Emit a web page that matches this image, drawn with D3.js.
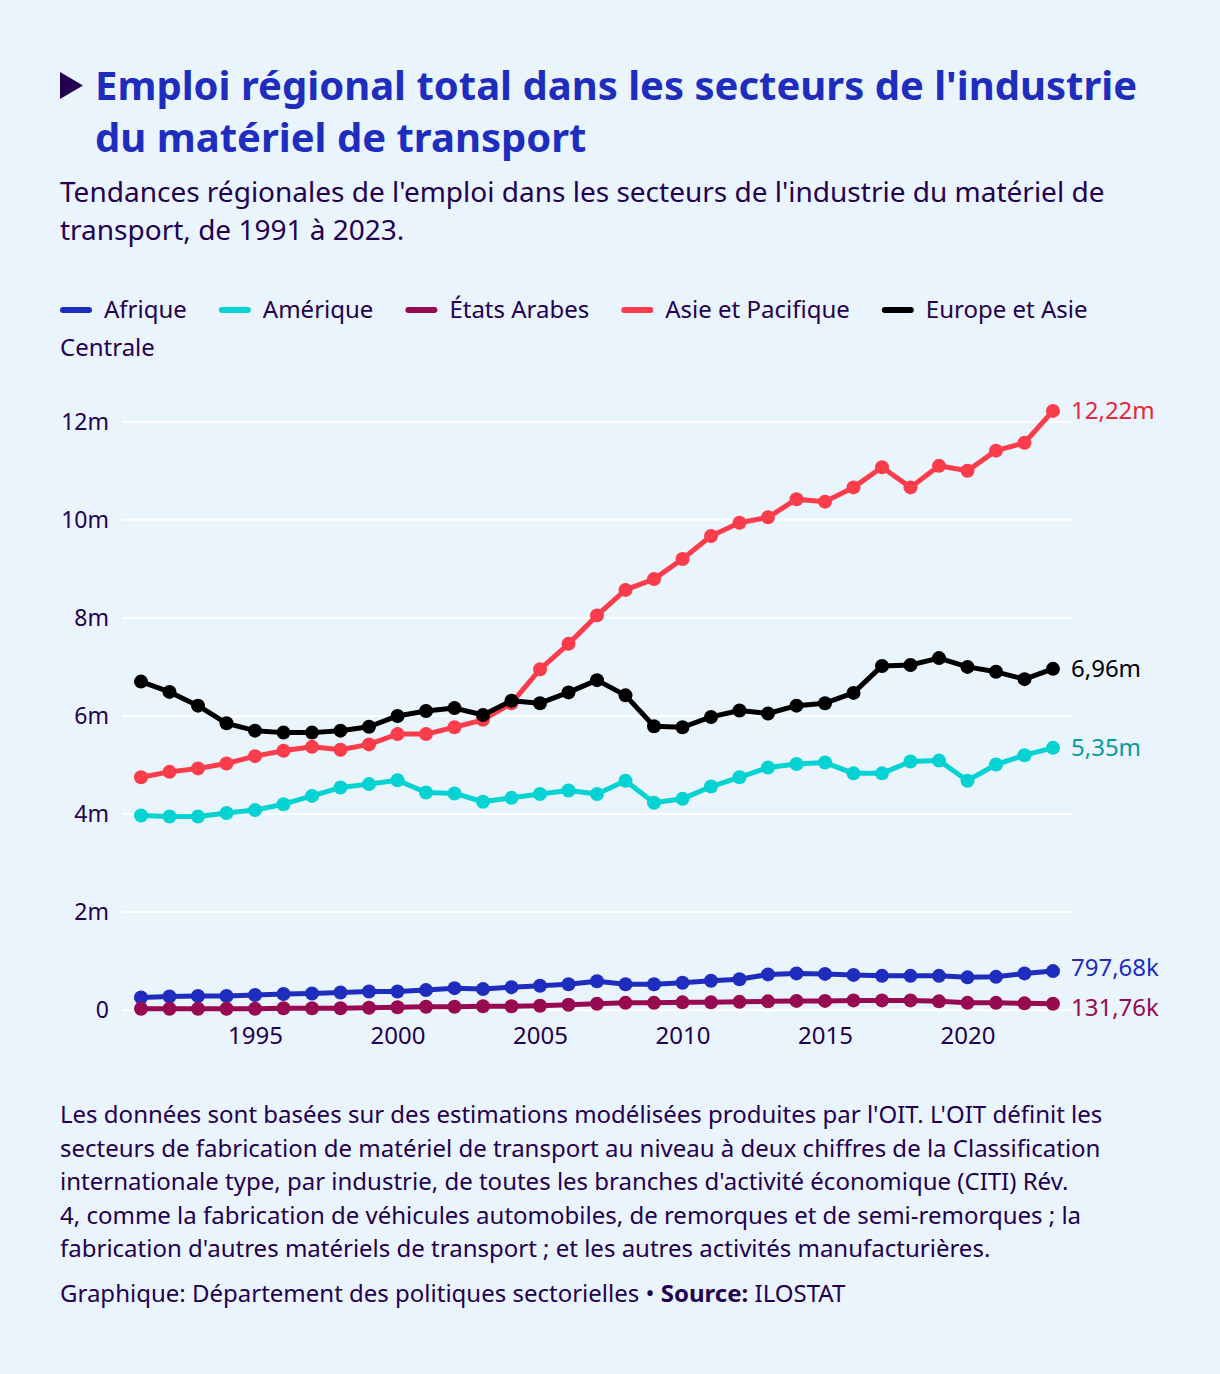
<!DOCTYPE html>
<html>
<head>
<meta charset="utf-8">
<script src="https://cdn.jsdelivr.net/npm/d3@7"></script>
<style>
  html, body { margin: 0; padding: 0; background: #EAF4FD; }
  svg { display: block; font-family: "Noto Sans", sans-serif; }
</style>
</head>
<body>
<div id="chart"></div>
<script>
const years = [1991, 1992, 1993, 1994, 1995, 1996, 1997, 1998, 1999, 2000, 2001,
  2002, 2003, 2004, 2005, 2006, 2007, 2008, 2009, 2010, 2011, 2012, 2013, 2014,
  2015, 2016, 2017, 2018, 2019, 2020, 2021, 2022, 2023];

// values in millions
const afrique = [0.26, 0.28, 0.29, 0.29, 0.31, 0.33, 0.34, 0.36, 0.38, 0.38, 0.41,
  0.45, 0.43, 0.47, 0.50, 0.53, 0.59, 0.53, 0.53, 0.56, 0.60, 0.63, 0.73, 0.75,
  0.74, 0.72, 0.70, 0.70, 0.70, 0.67, 0.68, 0.75, 0.79768];
const amerique = [3.97, 3.95, 3.95, 4.02, 4.08, 4.20, 4.37, 4.54, 4.61, 4.69, 4.44,
  4.42, 4.25, 4.33, 4.41, 4.48, 4.41, 4.68, 4.23, 4.31, 4.56, 4.75, 4.95, 5.02,
  5.05, 4.83, 4.83, 5.07, 5.09, 4.68, 5.01, 5.20, 5.35];
const etatsArabes = [0.03, 0.03, 0.03, 0.03, 0.03, 0.04, 0.04, 0.04, 0.05, 0.06, 0.07,
  0.07, 0.08, 0.08, 0.09, 0.11, 0.13, 0.15, 0.15, 0.16, 0.16, 0.17, 0.18, 0.19,
  0.19, 0.20, 0.20, 0.20, 0.18, 0.15, 0.15, 0.14, 0.13176];
const asiePacifique = [4.75, 4.86, 4.93, 5.03, 5.18, 5.29, 5.37, 5.31, 5.42, 5.63, 5.63,
  5.77, 5.92, 6.26, 6.95, 7.47, 8.05, 8.57, 8.79, 9.20, 9.67, 9.94, 10.05, 10.42,
  10.37, 10.66, 11.07, 10.66, 11.10, 11.00, 11.41, 11.57, 12.22];
const europeAsie = [6.70, 6.49, 6.21, 5.85, 5.70, 5.66, 5.66, 5.70, 5.78, 6.00, 6.10,
  6.16, 6.02, 6.31, 6.26, 6.48, 6.73, 6.42, 5.79, 5.77, 5.98, 6.11, 6.05, 6.21,
  6.26, 6.47, 7.02, 7.04, 7.18, 7.00, 6.90, 6.75, 6.96];

const seriesNames = ["Afrique", "Amérique", "États Arabes", "Asie et Pacifique", "Europe et Asie Centrale"];
const seriesValues = [afrique, amerique, etatsArabes, asiePacifique, europeAsie];
const seriesColors = ["#1E2DBE", "#05D2D2", "#970A52", "#FA3C4B", "#000000"];
const labelColors = ["#1E2DBE", "#079B9E", "#970A52", "#E32A3C", "#000000"];
const endLabels = ["797,68k", "5,35m", "131,76k", "12,22m", "6,96m"];

const yTicks = [0, 2, 4, 6, 8, 10, 12];
const xTicks = [1995, 2000, 2005, 2010, 2015, 2020];

const titleLines = ["Emploi régional total dans les secteurs de l'industrie", "du matériel de transport"];
const subtitleLines = ["Tendances régionales de l'emploi dans les secteurs de l'industrie du matériel de",
  "transport, de 1991 à 2023."];
const noteLines = [
  "Les données sont basées sur des estimations modélisées produites par l'OIT. L'OIT définit les",
  "secteurs de fabrication de matériel de transport au niveau à deux chiffres de la Classification",
  "internationale type, par industrie, de toutes les branches d'activité économique (CITI) Rév.",
  "4, comme la fabrication de véhicules automobiles, de remorques et de semi-remorques ; la",
  "fabrication d'autres matériels de transport ; et les autres activités manufacturières."
];

const W = 1220, H = 1374;
const ink = "#230050";
const svg = d3.select("#chart").append("svg")
  .attr("width", W)
  .attr("height", H);

// title
svg.append("path")
  .attr("d", "M60,72 L83,85.5 L60,99 Z")
  .attr("fill", ink);
svg.append("g").selectAll("text")
  .data(titleLines)
  .join("text")
  .attr("x", 95)
  .attr("y", (d, i) => 100 + i * 52)
  .attr("font-size", 40)
  .attr("font-weight", "bold")
  .attr("fill", "#1E2DBE")
  .text(d => d);

svg.append("g").selectAll("text")
  .data(subtitleLines)
  .join("text")
  .attr("x", 60)
  .attr("y", (d, i) => 202 + i * 38)
  .attr("font-size", 28)
  .attr("fill", ink)
  .text(d => d);

// legend (inline, wraps like text)
const legend = svg.append("g");
let lx = 60, ly = 318;
const legendRight = 1165;
seriesNames.forEach((name, i) => {
  legend.append("line")
    .attr("x1", lx + 3).attr("x2", lx + 29)
    .attr("y1", ly - 8).attr("y2", ly - 8)
    .attr("stroke", seriesColors[i])
    .attr("stroke-width", 6)
    .attr("stroke-linecap", "round");
  lx += 44;
  const words = name.split(" ");
  let line = legend.append("text")
    .attr("x", lx).attr("y", ly)
    .attr("font-size", 24)
    .attr("fill", ink);
  let str = "";
  words.forEach(w => {
    const test = str ? str + " " + w : w;
    line.text(test);
    if (lx + line.node().getComputedTextLength() > legendRight && str) {
      line.text(str);
      ly += 38;
      lx = 60;
      line = legend.append("text")
        .attr("x", lx).attr("y", ly)
        .attr("font-size", 24)
        .attr("fill", ink)
        .text(w);
      str = w;
    } else {
      str = test;
    }
  });
  lx += line.node().getComputedTextLength() + 32;
});

// chart
const plotLeft = 122, plotRight = 1073;
const x = d3.scaleLinear()
  .domain([years[0], years[years.length - 1]])
  .range([plotLeft + 19, plotRight - 20]);
const y = d3.scaleLinear()
  .domain([0, 12])
  .range([1010.2, 421.7]);

const grid = svg.append("g");
grid.selectAll("line")
  .data(yTicks)
  .join("line")
  .attr("x1", plotLeft).attr("x2", plotRight)
  .attr("y1", d => y(d)).attr("y2", d => y(d))
  .attr("stroke", "#fff")
  .attr("stroke-width", 2);

const yAxis = svg.append("g")
  .attr("transform", `translate(${plotLeft},0)`)
  .call(d3.axisLeft(y).tickValues(yTicks).tickSize(0).tickPadding(13)
    .tickFormat(d => d === 0 ? "0" : d + "m"));
yAxis.select(".domain").remove();
yAxis.selectAll("text")
  .attr("font-family", "Noto Sans, sans-serif")
  .attr("font-size", 23)
  .attr("fill", ink);

const xAxis = svg.append("g")
  .attr("transform", `translate(0,${y(0)})`)
  .call(d3.axisBottom(x).tickValues(xTicks).tickSize(0).tickPadding(17)
    .tickFormat(d3.format("d")));
xAxis.select(".domain").remove();
xAxis.selectAll("text")
  .attr("font-family", "Noto Sans, sans-serif")
  .attr("font-size", 24)
  .attr("fill", ink);

const line = d3.line()
  .x((d, i) => x(years[i]))
  .y(d => y(d));

const seriesG = svg.append("g");
seriesValues.forEach((vals, i) => {
  const g = seriesG.append("g");
  g.append("path")
    .datum(vals)
    .attr("fill", "none")
    .attr("stroke", seriesColors[i])
    .attr("stroke-width", 5)
    .attr("stroke-linejoin", "round")
    .attr("d", line);
  g.selectAll("circle")
    .data(vals)
    .join("circle")
    .attr("cx", (d, j) => x(years[j]))
    .attr("cy", d => y(d))
    .attr("r", 7)
    .attr("fill", seriesColors[i]);
});

// end labels, nudged apart when too close
const ends = seriesValues.map((vals, i) => ({
  i, y: y(vals[vals.length - 1]), text: endLabels[i]
})).sort((a, b) => a.y - b.y);
const minGap = 40;
for (let k = 1; k < ends.length; k++) {
  const gap = ends[k].y - ends[k - 1].y;
  if (gap < minGap) {
    const push = (minGap - gap) / 2;
    ends[k - 1].y -= push;
    ends[k].y += push;
  }
}
svg.append("g").selectAll("text")
  .data(ends)
  .join("text")
  .attr("x", x(years[years.length - 1]) + 18)
  .attr("y", d => d.y)
  .attr("dy", "0.35em")
  .attr("font-size", 24)
  .attr("fill", d => labelColors[d.i])
  .text(d => d.text);

// notes
svg.append("g").selectAll("text")
  .data(noteLines)
  .join("text")
  .attr("x", 60)
  .attr("y", (d, i) => 1123 + i * 33.5)
  .attr("font-size", 24)
  .attr("fill", ink)
  .text(d => d);

const credit = svg.append("text")
  .attr("x", 60)
  .attr("y", 1302)
  .attr("font-size", 24)
  .attr("fill", ink);
credit.append("tspan").text("Graphique: Département des politiques sectorielles • ");
credit.append("tspan").attr("font-weight", "bold").text("Source:");
credit.append("tspan").text(" ILOSTAT");
</script>
</body>
</html>
